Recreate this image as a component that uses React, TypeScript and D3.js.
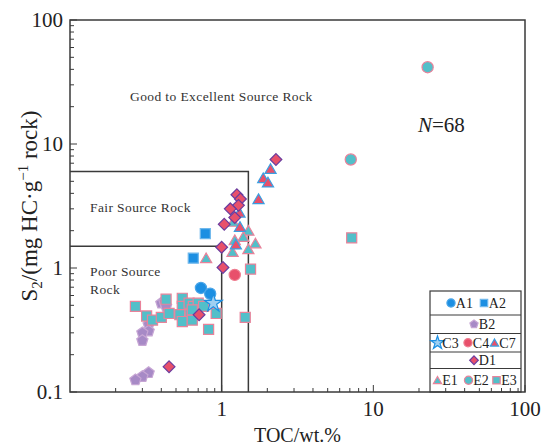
import React from "react";
import * as d3 from "d3";

// TOC (wt.%) and S2 (mg HC/g rock) per sample group
const A1_TOC = [0.73, 0.84];
const A1_S2 = [0.69, 0.62];
const A2_TOC = [0.78, 0.65];
const A2_S2 = [1.89, 1.2];
const B2_TOC = [0.4, 0.42, 0.43, 0.33, 0.33, 0.3, 0.3, 0.33, 0.3, 0.27];
const B2_S2 = [0.52, 0.53, 0.49, 0.35, 0.31, 0.3, 0.26, 0.143, 0.133, 0.125];
const C3_TOC = [0.88];
const C3_S2 = [0.52];
const C4_TOC = [1.22];
const C4_S2 = [0.88];
const C7_TOC = [2.1, 1.88, 2.02, 1.75, 1.31, 1.32, 1.24];
const C7_S2 = [6.3, 5.3, 4.9, 3.6, 2.8, 2.15, 1.55];
const D1_TOC = [2.28, 1.26, 1.33, 1.29, 1.14, 1.22, 1.04, 1.0, 1.02, 0.71, 0.45];
const D1_S2 = [7.5, 3.9, 3.6, 3.2, 3.0, 2.55, 2.25, 1.47, 1.01, 0.42, 0.16];
const E1_TOC = [1.19, 1.5, 1.39, 1.22, 1.67, 1.5, 1.18, 0.79];
const E1_S2 = [2.36, 2.0, 1.78, 1.68, 1.58, 1.42, 1.35, 1.2];
const E2_TOC = [7.1, 22.8];
const E2_S2 = [7.5, 41.6];
const E3_TOC = [0.27, 0.43, 0.55, 0.55, 0.61, 0.65, 0.7, 0.76, 0.32, 0.35, 0.4, 0.45, 0.53, 0.62, 0.55, 0.64, 0.64, 0.92, 0.82, 1.43, 1.55, 7.2];
const E3_S2 = [0.49, 0.56, 0.57, 0.49, 0.52, 0.49, 0.52, 0.49, 0.41, 0.38, 0.4, 0.43, 0.42, 0.42, 0.37, 0.38, 0.46, 0.43, 0.32, 0.4, 0.98, 1.75];

const X_MAJOR = [1, 10, 100];
const Y_MAJOR = [0.1, 1, 10, 100];
const Y_MAJOR_LABELS = ["0.1", "1", "10", "100"];
const X_MAJOR_LABELS = ["1", "10", "100"];

// Source-rock class boundaries
const FAIR_TOC = 1.5;
const FAIR_S2 = 6;
const POOR_TOC = 1;
const POOR_S2 = 1.5;

type Kind = "circle" | "square" | "triangle" | "diamond" | "pentagon" | "star";
type Style = { kind: Kind; fill: string; stroke: string };

const BLUE = "#1c8fe2";
const RED = "#e8506b";
const TEAL = "#52bfc9";
const PINK = "#e9829a";
const PURPLE = "#a78ac6";

const STYLES: Record<string, Style> = {
  A1: { kind: "circle", fill: BLUE, stroke: "#4aa5e8" },
  A2: { kind: "square", fill: BLUE, stroke: "#6fb8ec" },
  B2: { kind: "pentagon", fill: PURPLE, stroke: "#c7a6d4" },
  C3: { kind: "star", fill: "#9fd0f2", stroke: BLUE },
  C4: { kind: "circle", fill: RED, stroke: "#ee7d90" },
  C7: { kind: "triangle", fill: RED, stroke: "#3a9fe2" },
  D1: { kind: "diamond", fill: RED, stroke: "#6a3c9e" },
  E1: { kind: "triangle", fill: TEAL, stroke: PINK },
  E2: { kind: "circle", fill: TEAL, stroke: PINK },
  E3: { kind: "square", fill: TEAL, stroke: PINK },
};

const SERIES: { key: string; toc: number[]; s2: number[] }[] = [
  { key: "B2", toc: B2_TOC, s2: B2_S2 },
  { key: "E3", toc: E3_TOC, s2: E3_S2 },
  { key: "A1", toc: A1_TOC, s2: A1_S2 },
  { key: "A2", toc: A2_TOC, s2: A2_S2 },
  { key: "C3", toc: C3_TOC, s2: C3_S2 },
  { key: "C4", toc: C4_TOC, s2: C4_S2 },
  { key: "E1", toc: E1_TOC, s2: E1_S2 },
  { key: "C7", toc: C7_TOC, s2: C7_S2 },
  { key: "D1", toc: D1_TOC, s2: D1_S2 },
  { key: "E2", toc: E2_TOC, s2: E2_S2 },
];

const LEGEND_ROWS: string[][] = [["A1", "A2"], ["B2"], ["C3", "C4", "C7"], ["D1"], ["E1", "E2", "E3"]];

const W = 542;
const H = 447;
const M = { left: 70, right: 525, top: 20, bottom: 392 };
const FONT = "'Liberation Serif', 'Times New Roman', serif";
const AXIS = "#3a3a3a";

function markerPath(kind: Kind, r: number): string {
  switch (kind) {
    case "circle":
      return d3.symbol(d3.symbolCircle, Math.PI * r * r)()!;
    case "square": {
      const s = r * 0.9;
      return `M${-s},${-s}H${s}V${s}H${-s}Z`;
    }
    case "triangle": {
      const R = r * 1.15;
      const p = [
        [0, -R],
        [R * 0.866, R * 0.5],
        [-R * 0.866, R * 0.5],
      ];
      return "M" + p.map((q) => `${q[0]},${q[1] + R * 0.2}`).join("L") + "Z";
    }
    case "diamond": {
      const R = r * 1.05;
      return `M0,${-R}L${R},0L0,${R}L${-R},0Z`;
    }
    case "pentagon": {
      const R = r * 1.05;
      const pts = d3.range(5).map((i) => {
        const a = -Math.PI / 2 + (i * 2 * Math.PI) / 5;
        return `${R * Math.cos(a)},${R * Math.sin(a)}`;
      });
      return "M" + pts.join("L") + "Z";
    }
    case "star":
      return d3.symbol(d3.symbolStar, r * r * 3.2)()!;
  }
}

function Marker({ k, x, y, r = 5.6 }: { k: string; x: number; y: number; r?: number }) {
  const st = STYLES[k];
  return (
    <path
      d={markerPath(st.kind, r)}
      transform={`translate(${x},${y})`}
      fill={st.fill}
      stroke={st.stroke}
      strokeWidth={1.2}
    />
  );
}

export default function App() {
  const x = d3.scaleLog().domain([0.1, 100]).range([M.left, M.right]);
  const y = d3.scaleLog().domain([0.1, 100]).range([M.bottom, M.top]);

  const minor: number[] = [];
  [0.1, 1, 10].forEach((d) => d3.range(2, 10).forEach((m) => minor.push(d * m)));

  // legend geometry
  const lg = { left: 430, right: 521, top: 291 };
  const rowBounds = [291, 315, 333.5, 352, 368.5, 392];
  const legendItemX: Record<string, number> = {
    A1: 451, A2: 484, B2: 474, C3: 437.5, C4: 468, C7: 494.5, D1: 474, E1: 437.5, E2: 468.5, E3: 496.5,
  };

  return (
    <svg
      width={W}
      height={H}
      style={{ position: "absolute", left: 0, top: 0, display: "block", background: "#fff" }}
      fontFamily={FONT}
    >
      <rect width={W} height={H} fill="#fff" />

      {/* class boundaries */}
      <g stroke={AXIS} strokeWidth={1.5} fill="none">
        <path d={`M${M.left},${y(FAIR_S2)}H${x(FAIR_TOC)}V${M.bottom}`} />
        <path d={`M${M.left},${y(POOR_S2)}H${x(POOR_TOC)}V${M.bottom}`} />
      </g>

      {/* region labels */}
      <g fontSize={13.5} fill="#333" letterSpacing={0.4}>
        <text x={130} y={101}>Good to Excellent Source Rock</text>
        <text x={90} y={212}>Fair Source Rock</text>
        <text x={90} y={276}>Poor Source</text>
        <text x={90} y={294}>Rock</text>
      </g>
      <text x={418} y={132} fontSize={21} fill="#222">
        <tspan fontStyle="italic">N</tspan>=68
      </text>

      {/* data */}
      {SERIES.map((s) =>
        s.toc.map((t, i) => <Marker key={`${s.key}-${i}`} k={s.key} x={x(t)} y={y(s.s2[i])} />)
      )}

      {/* legend */}
      <g>
        <rect x={lg.left} y={lg.top} width={lg.right - lg.left} height={M.bottom - lg.top} fill="#fff" stroke={AXIS} strokeWidth={1.2} />
        {rowBounds.slice(1, -1).map((b) => (
          <line key={b} x1={lg.left} x2={lg.right} y1={b} y2={b} stroke={AXIS} strokeWidth={1} />
        ))}
        {LEGEND_ROWS.map((row, ri) => {
          const cy = (rowBounds[ri] + rowBounds[ri + 1]) / 2;
          return row.map((k) => (
            <g key={k}>
              <Marker k={k} x={legendItemX[k]} y={cy} r={4.1} />
              <text x={legendItemX[k] + 4.8} y={cy + 5} fontSize={14} fill="#222">
                {k}
              </text>
            </g>
          ));
        })}
      </g>

      {/* axes frame */}
      <rect x={M.left} y={M.top} width={M.right - M.left} height={M.bottom - M.top} fill="none" stroke={AXIS} strokeWidth={1.5} />

      {/* inner ticks */}
      <g stroke={AXIS} strokeWidth={1}>
        {minor.map((v) => (
          <line key={`xm${v}`} x1={x(v)} x2={x(v)} y1={M.bottom} y2={M.bottom - 4} />
        ))}
        {minor.map((v) => (
          <line key={`ym${v}`} x1={M.left} x2={M.left + 4} y1={y(v)} y2={y(v)} />
        ))}
        {X_MAJOR.map((v) => (
          <line key={`xM${v}`} x1={x(v)} x2={x(v)} y1={M.bottom} y2={M.bottom - 7} />
        ))}
        {Y_MAJOR.map((v) => (
          <line key={`yM${v}`} x1={M.left} x2={M.left + 7} y1={y(v)} y2={y(v)} />
        ))}
      </g>

      {/* tick labels */}
      <g fontSize={21} fill="#222">
        {Y_MAJOR.map((v, i) => (
          <text key={`yl${v}`} x={M.left - 7} y={y(v) + 7} textAnchor="end">
            {Y_MAJOR_LABELS[i]}
          </text>
        ))}
        {X_MAJOR.map((v, i) => (
          <text key={`xl${v}`} x={x(v)} y={M.bottom + 24} textAnchor="middle">
            {X_MAJOR_LABELS[i]}
          </text>
        ))}
      </g>

      {/* axis titles */}
      <text x={(M.left + M.right) / 2} y={M.bottom + 50} textAnchor="middle" fontSize={20} fill="#222">
        TOC/wt.%
      </text>
      <text
        transform={`translate(${37},${(M.top + M.bottom) / 2}) rotate(-90)`}
        textAnchor="middle"
        fontSize={23}
        fill="#222"
      >
        S<tspan fontSize={15} dy={5}>2</tspan>
        <tspan dy={-5}>/(mg HC·g</tspan>
        <tspan fontSize={15} dy={-9}>−1</tspan>
        <tspan dy={9}> rock)</tspan>
      </text>
    </svg>
  );
}
